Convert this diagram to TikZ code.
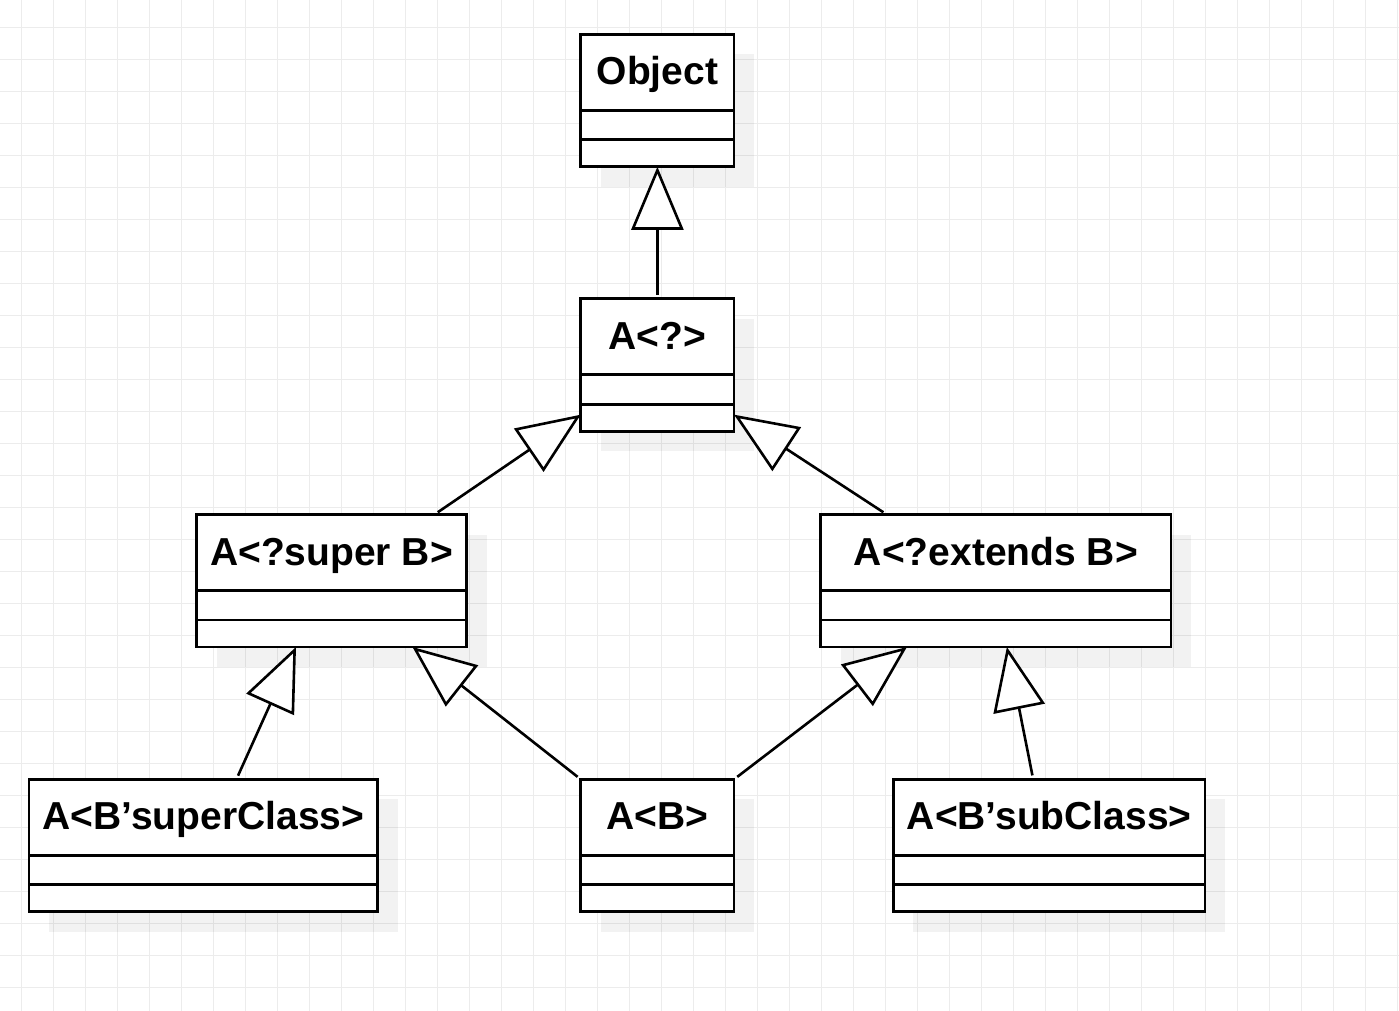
\documentclass[tikz,border=0pt]{standalone}
\usepackage{fontspec}
\setmainfont{Liberation Sans}
\usepackage{xcolor}
\usepackage{tikz}
\usetikzlibrary{positioning,arrows.meta,shadows}
\definecolor{gridgray}{RGB}{236,236,236}

\begin{document}
\begin{tikzpicture}[x=1pt,y=-1pt,
  gridline/.style={gridgray, line width=1pt},
  classshadow/.style={general shadow={fill=black, opacity=0.05, shadow xshift=20pt, shadow yshift=-20pt}},
  classhead/.style={draw, fill=white, line width=2.8pt, outer sep=0pt, inner sep=0pt,
    minimum height=76pt, text height=25pt, text depth=0pt,
    font=\fontsize{39}{46}\selectfont\bfseries, classshadow},
  classpart/.style={draw, fill=white, line width=2.8pt, outer sep=0pt, inner sep=0pt,
    minimum height=29.5pt, classshadow},
  classlast/.style={classpart, minimum height=27pt},
  extends/.style={line width=2.6pt, shorten <=4pt,
    -{Triangle[length=63pt, width=52pt, fill=white]}}]
\fill[white] (0,0) rectangle (1399,1011);
\useasboundingbox (0,0) rectangle (1399,1011);
\foreach \gx in {21.5,53.5,...,1397.5} \draw[gridline] (\gx,0) -- (\gx,1011);
\foreach \gy in {27.5,59.5,...,1003.5} \draw[gridline] (0,\gy) -- (1399,\gy);

\node[classhead, minimum width=153.3pt] (obj) at (657.4,72.3) {Object};
\node[classhead, minimum width=153.3pt] (anyq) at (657.4,336.7) {A<?>};
\node[classhead, minimum width=270pt] (superb) at (331.5,552.5) {A<?super B>};
\node[classhead, minimum width=350.3pt] (extb) at (995.9,552.5) {A<?extends B>};
\node[classhead, minimum width=348.7pt] (supcls) at (203.4,817.3) {A<B’superClass>};
\node[classhead, minimum width=153.3pt] (ab) at (657.4,817.3) {A<B>};
\node[classhead, minimum width=311.7pt] (subcls) at (1049.2,817.3) {A<B’subClass>};

\foreach \c/\w in {obj/153.3,anyq/153.3,superb/270,extb/350.3,supcls/348.7,ab/153.3,subcls/311.7} {
  \node[classpart, minimum width=\w pt, below=0pt of \c] (\c1) {};
  \node[classlast, minimum width=\w pt, below=0pt of \c1] (\c2) {};
}

\draw[extends] (anyq.north) -- (obj2.south);
\draw[extends] ([xshift=-32pt]superb.north east) -- ([yshift=3pt]anyq2.west);
\draw[extends] ([xshift=66pt]extb.north west) -- ([yshift=3pt]anyq2.east);
\draw[extends] ([xshift=33pt]supcls.north) -- ([xshift=-35.5pt]superb2.south);
\draw[extends] (ab.north west) -- ([xshift=81pt]superb2.south);
\draw[extends] (ab.north east) -- ([xshift=-89pt]extb2.south);
\draw[extends] ([xshift=-16pt]subcls.north) -- ([xshift=11pt]extb2.south);
\end{tikzpicture}
\end{document}
